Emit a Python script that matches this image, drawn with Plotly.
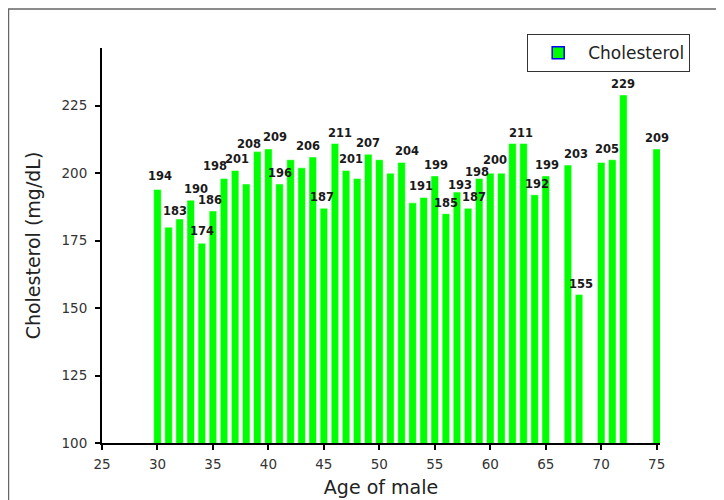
import plotly.graph_objects as go

ages = [30, 31, 32, 33, 34, 35, 36, 37, 38, 39, 40, 41, 42, 43, 44, 45, 46, 47, 48,
        49, 50, 51, 52, 53, 54, 55, 56, 57, 58, 59, 60, 61, 62, 63, 64, 65, 67, 68,
        70, 71, 72, 75]
cholesterol = [194, 180, 183, 190, 174, 186, 198, 201, 196, 208, 209, 196, 205, 202,
               206, 187, 211, 201, 198, 207, 205, 200, 204, 189, 191, 199, 185, 193,
               187, 198, 200, 200, 211, 211, 192, 199, 203, 155, 204, 205, 229, 209]
# bars that carry a value label in the original
labelled = [30, 32, 33, 34, 35, 36, 37, 39, 40, 41, 44, 45, 46, 47, 49, 52, 54, 55,
            56, 57, 58, 59, 60, 63, 64, 65, 67, 68, 71, 72, 75]
x_ticks = [25, 30, 35, 40, 45, 50, 55, 60, 65, 70, 75]
y_ticks = [100, 125, 150, 175, 200, 225]

# style: (dx, dy) nudge in px of each value label, as placed in the original
label_nudge = {30: (3, 2), 32: (-5, -3), 33: (5, 0), 34: (0, 1), 35: (-3, 0),
               36: (-9, 2), 37: (2, 0), 39: (-8, -3), 40: (7, 1), 41: (0, 0),
               44: (-5, 0), 45: (-2, 0), 46: (5, 0), 47: (5, 0), 49: (0, 0),
               52: (5, 0), 54: (-3, 0), 55: (1, 0), 56: (0, 0), 57: (3, -4),
               58: (6, 0), 59: (-2, -4), 60: (5, 2), 63: (-3, 0), 64: (2, 0),
               65: (1, 0), 67: (8, 0), 68: (2, 0), 71: (-5, 0), 72: (0, 0), 75: (0, 0)}

FONT = "DejaVu Sans, Verdana, sans-serif"

fig = go.Figure()
fig.add_trace(go.Bar(
    x=ages, y=cholesterol, width=0.68,
    marker=dict(color="#00ff00", line=dict(color="#ffffff", width=0.5)),
    showlegend=False, hoverinfo="x+y",
))
# legend-only entry (swatch with blue outline as in the original)
fig.add_trace(go.Bar(
    x=[None], y=[None], name="Cholesterol",
    marker=dict(color="#00ff00", line=dict(color="#0000ff", width=1.5)),
))

annotations = []
for a, v in zip(ages, cholesterol):
    if a in labelled:
        dx, dy = label_nudge.get(a, (0, 0))
        annotations.append(dict(
            x=a, y=v, xref="x", yref="y", text=str(v), showarrow=False,
            xanchor="center", yanchor="bottom", yshift=2 + dy, xshift=dx,
            font=dict(family=FONT, size=11.5, color="#1a1a1a", weight="bold"),
        ))

fig.update_layout(
    width=724, height=500,
    margin=dict(l=94, r=72, t=40, b=65),
    paper_bgcolor="white", plot_bgcolor="white",
    font=dict(family=FONT, color="#222222"),
    legend=dict(
        x=0.762, y=1.035, xanchor="left", yanchor="top",
        bordercolor="#333333", borderwidth=1, bgcolor="white",
        font=dict(family=FONT, size=17, color="#222222"),
        itemwidth=50,
    ),
    xaxis=dict(
        range=[25, 75.3], tickvals=x_ticks, ticks="outside", ticklen=5,
        tickwidth=1.5, tickcolor="black", automargin=False, ticklabelstandoff=3,
        showline=True, linecolor="black", linewidth=2, showgrid=False,
        zeroline=False, tickfont=dict(family=FONT, size=13.5, color="#333333"),
        title=dict(text="Age of male", font=dict(family=FONT, size=19, color="#222222"), standoff=9),
    ),
    yaxis=dict(
        range=[100, 246.4], tickvals=y_ticks, ticks="outside", ticklen=5,
        tickwidth=1.5, tickcolor="black", automargin=False, ticklabelstandoff=5,
        showline=True, linecolor="black", linewidth=2, showgrid=False,
        zeroline=False, tickfont=dict(family=FONT, size=13.5, color="#333333"),
        title=dict(text="Cholesterol (mg/dL)", font=dict(family=FONT, size=19, color="#222222"), standoff=16),
    ),
    annotations=annotations,
    shapes=[dict(
        type="rect", xref="paper", yref="paper",
        x0=-0.1676, x1=1.2, y0=-0.25, y1=1.0988,
        line=dict(color="#666666", width=1.5), fillcolor="rgba(0,0,0,0)", layer="below",
    )],
)

fig.write_html("out.html")
